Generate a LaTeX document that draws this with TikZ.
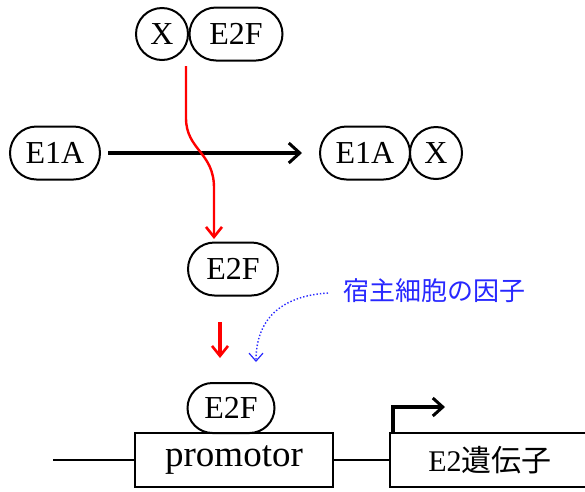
\documentclass[tikz,border=0pt]{standalone}
\usepackage{fontspec}
\setmainfont{Liberation Serif}
\newfontfamily\jpfont{Noto Sans CJK JP}
\usetikzlibrary{shapes.misc,arrows.meta}
\definecolor{bluetxt}{RGB}{40,40,255}
\tikzset{
  pill/.style={rounded rectangle, draw, line width=2pt, minimum width=90pt, minimum height=53pt, inner sep=0pt, font=\fontsize{32}{33}\selectfont},
  ball/.style={circle, draw, line width=2pt, minimum size=52pt, inner sep=0pt, font=\fontsize{32}{33}\selectfont},
  box/.style={rectangle, draw, line width=1.8pt, minimum height=54pt, inner sep=0pt},
  redarrow/.style={draw=red, line width=2.4pt, -{Straight Barb[length=10pt,width=16pt,line width=2.6pt]}},
  blkarrow/.style={draw=black, line width=3.4pt, -{Straight Barb[length=11pt,width=20pt,line width=3pt]}},
  bluearrow/.style={draw=bluetxt, line width=1.4pt, dotted, -{Straight Barb[length=8pt,width=14pt,line width=1.2pt]}},
}
\begin{document}
\begin{tikzpicture}[x=1pt,y=-1pt]
\useasboundingbox (0,0) rectangle (585,491);
% top complex
\node[ball] (x1) at (162,34) {X};
\node[pill, minimum width=93pt] (e2f1) at (236,34) {E2F};
% E1A
\node[pill] (e1a1) at (55,153) {E1A};
\node[pill] (e1a2) at (365,153) {E1A};
\node[ball] (x2) at (436,153) {X};
\coordinate (a2) at (302,153);
\draw[blkarrow] (e1a1.east) ++(7,0) -- (a2);
% middle E2F
\node[pill] (e2f2) at (233,269) {E2F};
% red curve
\coordinate (r0) at (186,66);
\coordinate (r1) at (214,239);
\draw[redarrow] (r0) -- (186,118) .. controls (186,150) and (214,152) .. (214,188) -- (r1);
% bottom
\node[pill, minimum width=87pt, minimum height=50pt] (e2f3) at (231,408) {E2F};
\node[box, minimum width=198pt, font=\fontsize{37}{38}\selectfont] (prom) at (234,460) {promotor};
\node[box, minimum width=200pt, font=\fontsize{30}{32}\selectfont] (gene) at (490,460) {E2{\jpfont 遺伝子}};
\coordinate (l0) at (53,460);
\draw[line width=1.8pt] (l0) -- (prom.west);
\draw[line width=1.8pt] (prom.east) -- (gene.west);
\coordinate (b0) at (393,434);
\coordinate (b1) at (393,407);
\coordinate (b2) at (445,407);
\draw[line width=3.4pt, -{Straight Barb[length=10pt,width=18pt,line width=3pt]}] (b0) -- (b1) -- (b2);
% red short arrow
\coordinate (s0) at (220,322);
\coordinate (s1) at (220,358);
\draw[redarrow, line width=3.6pt] (s0) -- (s1);
% blue label
\node[text=bluetxt, font=\jpfont\fontsize{26}{27}\selectfont, anchor=west, inner sep=0pt] (host) at (343,291) {宿主細胞の因子};
\coordinate (h0) at (328,293);
\coordinate (h1) at (256,362);
\draw[bluearrow] (h0) .. controls (280,296) and (256,320) .. (h1);
\end{tikzpicture}
\end{document}
